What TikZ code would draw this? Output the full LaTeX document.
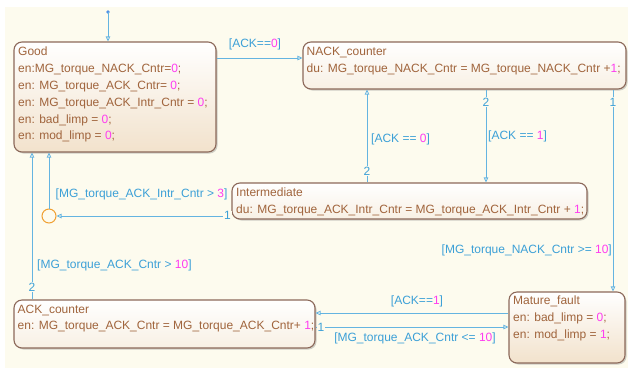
\documentclass[tikz,border=0pt]{standalone}
\usepackage{fontspec}
\setmainfont{Liberation Sans}
\usetikzlibrary{arrows.meta,shadows}
\definecolor{cream}{RGB}{253,251,238}
\definecolor{stborder}{RGB}{140,105,90}
\definecolor{stfill}{RGB}{242,226,204}
\definecolor{stfilllight}{RGB}{248,240,228}
\definecolor{sttext}{RGB}{160,100,60}
\definecolor{lineblue}{RGB}{100,180,225}
\definecolor{labelblue}{RGB}{60,160,215}
\definecolor{numc}{RGB}{255,60,240}
\definecolor{juncorange}{RGB}{240,160,50}
\newcommand\magn[1]{\textcolor{numc}{#1}}
\begin{document}
\begin{tikzpicture}[x=1bp,y=-1bp,
  basefont/.style={font=\fontsize{12bp}{16.9bp}\selectfont},
  state/.style={draw=stborder, line width=1.1bp, rounded corners=8bp,
    top color=white, bottom color=stfill, inner sep=0pt,
    drop shadow={shadow xshift=1.5bp, shadow yshift=-1.5bp, opacity=0.3, fill=black!60}},
  lightstate/.style={state, bottom color=stfilllight},
  txt/.style={basefont, anchor=north west, align=left, inner sep=0pt, text=sttext},
  tr/.style={draw=lineblue, line width=0.8bp, -{Triangle[open,length=5bp,width=4.5bp]}},
  trlab/.style={basefont, text=labelblue, inner sep=0pt},
  num/.style={basefont, text=labelblue, fill=cream, inner sep=0.8bp},
  junc/.style={circle, draw=juncorange, line width=1bp, minimum size=14bp, inner sep=0pt}
]
\useasboundingbox (0,0) rectangle (630,368);
\fill[white] (0,0) rectangle (630,368);
\fill[cream] (5,7) rectangle (628,368);

% states
\node[state, minimum width=202bp, minimum height=110bp] (good) at (115,97) {};
\node[lightstate, minimum width=323bp, minimum height=47bp] (nack) at (464.5,65.5) {};
\node[lightstate, minimum width=355bp, minimum height=36bp] (inter) at (409.5,201) {};
\node[lightstate, minimum width=301bp, minimum height=48bp] (ack) at (164.5,324) {};
\node[state, minimum width=116bp, minimum height=71bp] (mature) at (567,327.5) {};

\node[txt] (goodtxt) at (18,46.5) {Good\\
en:MG\_torque\_NACK\_Cntr=\magn{0};\\
en: MG\_torque\_ACK\_Cntr= \magn{0};\\
en: MG\_torque\_ACK\_Intr\_Cntr = \magn{0};\\
en: bad\_limp = \magn{0};\\
en: mod\_limp = \magn{0};};
\node[txt] (nacktxt) at (306.5,47) {NACK\_counter\\
du: MG\_torque\_NACK\_Cntr = MG\_torque\_NACK\_Cntr +\magn{1};};
\node[txt] (intertxt) at (236,187.5) {Intermediate\\
du: MG\_torque\_ACK\_Intr\_Cntr = MG\_torque\_ACK\_Intr\_Cntr + \magn{1};};
\node[txt] (acktxt) at (17.5,304.5) {ACK\_counter\\
en: MG\_torque\_ACK\_Cntr = MG\_torque\_ACK\_Cntr+ \magn{1};};
\node[txt] (maturetxt) at (513,296) {Mature\_fault\\
en: bad\_limp = \magn{0};\\
en: mod\_limp = \magn{1};};

% default transition
\coordinate (init) at (108,12);
\fill[lineblue!80!blue] (init) circle (1.8);
\draw[tr] (init) -- (init |- good.north);

% junction
\node[junc] (j) at (49,216) {};

% Good -> NACK_counter
\draw[tr] (good.east |- 0,58) -- (nack.west |- 0,58);
\node[trlab] (l1) at (255,44) {[ACK==\magn{0}]};

% NACK_counter -> Intermediate
\draw[tr] (nack.south -| 486,0) -- (inter.north -| 486,0);
\node[num] (n1) at (486,102) {2};
\node[trlab, anchor=west] (l2) at (488,136) {[ACK == \magn{1}]};

% Intermediate -> NACK_counter
\draw[tr] (inter.north -| 367,0) -- (nack.south -| 367,0);
\node[num] (n2) at (367,171) {2};
\node[trlab, anchor=west] (l3) at (371,139) {[ACK == \magn{0}]};

% NACK_counter -> Mature_fault
\draw[tr] (nack.south -| 613,0) -- (mature.north -| 613,0);
\node[num] (n3) at (613,102) {1};
\node[trlab, anchor=east] (l4) at (612,250) {[MG\_torque\_NACK\_Cntr >= \magn{10}]};

% Intermediate -> junction -> Good
\draw[tr] (inter.west |- 0,216) -- (j.east);
\node[num] (n4) at (227.5,215.5) {1};
\draw[tr] (j.north) -- (j.north |- good.south);
\node[trlab, anchor=west] (l5) at (55.5,194) {[MG\_torque\_ACK\_Intr\_Cntr > \magn{3}]};

% ACK_counter -> Good
\draw[tr] (ack.north -| 32,0) -- (good.south -| 32,0);
\node[num] (n5) at (32,287) {2};
\node[trlab, anchor=west] (l6) at (37,265) {[MG\_torque\_ACK\_Cntr > \magn{10}]};

% Mature_fault -> ACK_counter
\draw[tr] (mature.west |- 0,313) -- (ack.east |- 0,313);
\node[trlab] (l7) at (417,301) {[ACK==\magn{1}]};

% ACK_counter -> Mature_fault
\draw[tr] (ack.east |- 0,327) -- (mature.west |- 0,327);
\node[num] (n6) at (321,327) {1};
\node[trlab] (l8) at (415,338) {[MG\_torque\_ACK\_Cntr <= \magn{10}]};
\end{tikzpicture}
\end{document}
